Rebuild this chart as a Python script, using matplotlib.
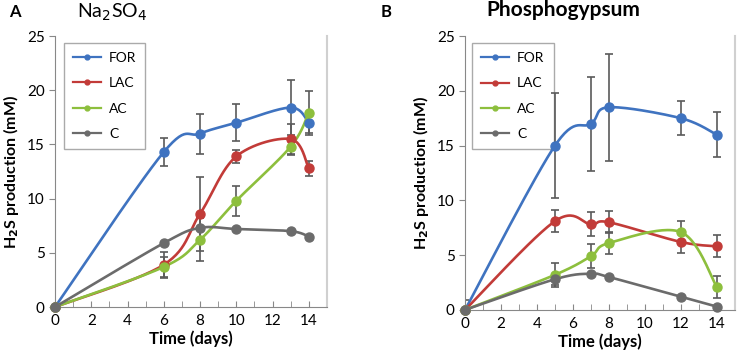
import numpy as np
import matplotlib
matplotlib.use("Agg")
import matplotlib.pyplot as plt
from matplotlib.lines import Line2D

plt.rcParams['font.family'] = ['Lato', 'DejaVu Sans']

# Panel A: Na2SO4
days_a = [0, 6, 8, 10, 13, 14]
for_a = [0, 14.3, 16.0, 17.0, 18.4, 17.0]
for_a_err = [0, 1.3, 1.85, 1.7, 2.5, 0.9]
lac_a = [0, 3.9, 8.6, 13.9, 15.5, 12.8]
lac_a_err = [0, 1.2, 3.4, 0.6, 1.4, 0.7]
ac_a = [0, 3.7, 6.2, 9.8, 14.8, 17.9]
ac_a_err = [0, 0.9, 2.0, 1.4, 0.8, 2.0]
c_a = [0, 5.9, 7.3, 7.2, 7.0, 6.5]
c_a_err = [0, 0, 0, 0, 0, 0]

# Panel B: Phosphogypsum
days_b = [0, 5, 7, 8, 12, 14]
for_b = [0, 15.0, 17.0, 18.5, 17.5, 16.0]
for_b_err = [0, 4.8, 4.3, 4.9, 1.55, 2.05]
lac_b = [0, 8.1, 7.8, 8.0, 6.2, 5.8]
lac_b_err = [0, 1.0, 1.1, 1.0, 1.0, 1.0]
ac_b = [0, 3.2, 4.9, 6.1, 7.1, 2.1]
ac_b_err = [0, 1.1, 1.1, 1.0, 1.0, 1.0]
c_b = [0, 2.8, 3.3, 3.0, 1.2, 0.3]
c_b_err = [0.9, 0.5, 0, 0, 0, 0]

labels = ["FOR", "LAC", "AC", "C"]
colors = ["#3F73C0", "#C23B38", "#8DBF3D", "#6B6B6B"]
err_color = "#5A5A5A"


def smooth(x, y, sx=18.1, sy=10.84, n=30):
    # Excel-like smoothed line: cubic bezier through points (in pixel space)
    p = np.column_stack([np.array(x, float) * sx, np.array(y, float) * sy])
    out = []
    for i in range(len(p) - 1):
        p0 = p[i - 1] if i > 0 else p[i]
        p1 = p[i]
        p2 = p[i + 1]
        p3 = p[i + 2] if i + 2 < len(p) else p[i + 1]
        c1 = p1 + (p2 - p0) / 6
        c2 = p2 - (p3 - p1) / 6
        t = np.linspace(0, 1, n)[:, None]
        seg = (1 - t) ** 3 * p1 + 3 * (1 - t) ** 2 * t * c1 + 3 * (1 - t) * t ** 2 * c2 + t ** 3 * p2
        out.append(seg)
    out = np.vstack(out)
    return out[:, 0] / sx, out[:, 1] / sy


def draw_panel(ax, days, series, errs, leg_x):
    for vals, err, col in zip(series, errs, colors):
        xs, ys = smooth(days, vals)
        ax.plot(xs, ys, color=col, lw=1.9, zorder=3, solid_capstyle='round')
        ax.errorbar(days, vals, yerr=err, fmt='none', ecolor=err_color,
                    elinewidth=1.2, capsize=3, capthick=1.2, zorder=2)
        ax.plot(days, vals, 'o', color=col, ms=6.5, zorder=4, clip_on=False)
    ax.set_xlim(0, 15)
    ax.set_ylim(0, 25)
    ax.set_xticks(range(0, 15, 2))
    ax.set_xticks(range(0, 16), minor=True)
    ax.set_yticks(range(0, 26, 5))
    ax.tick_params(axis='x', which='both', direction='in', length=4, color='#888888', labelsize=11, pad=5)
    ax.tick_params(axis='y', direction='out', length=4, color='#888888', labelsize=11)
    ax.spines['top'].set_visible(False)
    ax.spines['right'].set_color('#D0D0D0')
    ax.spines['right'].set_linewidth(1.5)
    ax.spines['left'].set_color('#888888')
    ax.spines['bottom'].set_color('#888888')
    ax.set_xlabel("Time (days)", fontsize=12, fontweight='bold', labelpad=2)
    ax.set_ylabel("H$_\\mathbf{2}$S production (mM)", fontsize=11.5, fontweight='bold', labelpad=4)
    handles = [Line2D([0], [0], color=c, lw=1.6, marker='o', ms=3.5) for c in colors]
    leg = ax.legend(handles, labels, loc='upper left', bbox_to_anchor=(leg_x, 0.974),
                    borderaxespad=0, fontsize=10, handlelength=2.0, handletextpad=0.6,
                    labelspacing=0.95, borderpad=0.65,
                    fancybox=False, edgecolor='#AAAAAA', framealpha=1)
    leg.get_frame().set_linewidth(1.0)
    leg.set_zorder(1)


fig = plt.figure(figsize=(7.37, 3.57), dpi=100)
ax1 = fig.add_axes([0.0746, 0.140, 0.369, 0.759])
ax2 = fig.add_axes([0.631, 0.132, 0.366, 0.767])

draw_panel(ax1, days_a, [for_a, lac_a, ac_a, c_a], [for_a_err, lac_a_err, ac_a_err, c_a_err], 0.033)
draw_panel(ax2, days_b, [for_b, lac_b, ac_b, c_b], [for_b_err, lac_b_err, ac_b_err, c_b_err], 0.026)

fig.text(0.012, 0.965, "A", fontsize=12, fontweight='bold', va='center')
fig.text(0.105, 0.965, "Na$_2$SO$_4$", fontsize=14, va='center')
fig.text(0.516, 0.965, "B", fontsize=12, fontweight='bold', va='center')
fig.text(0.66, 0.972, "Phosphogypsum", fontsize=15, fontweight='bold', va='center')

fig.savefig("out.png", dpi=100)
